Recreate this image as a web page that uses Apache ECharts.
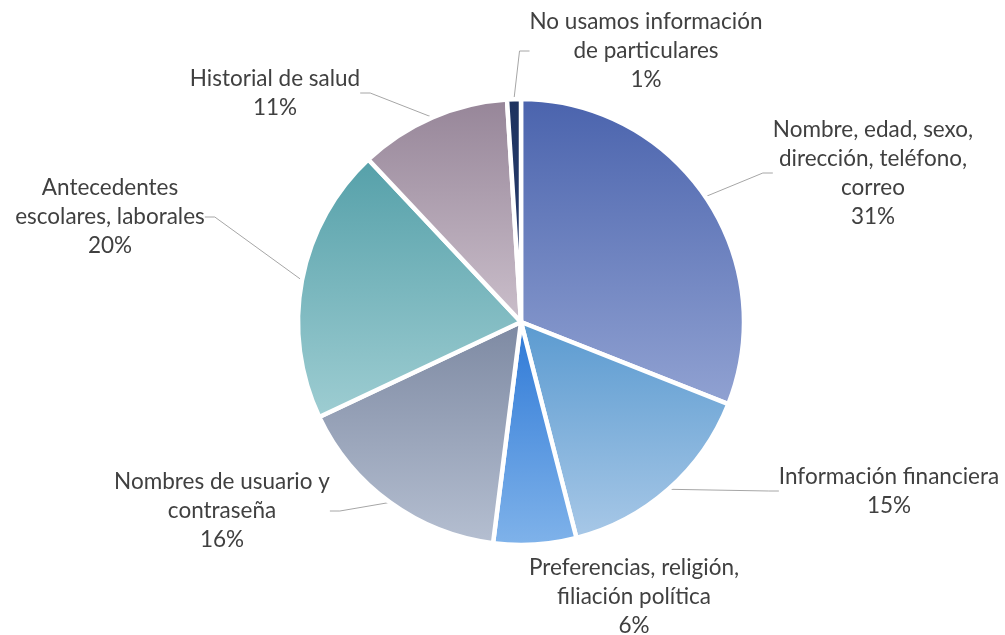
<!DOCTYPE html>
<html>
<head>
<meta charset="utf-8">
<script src="https://cdn.jsdelivr.net/npm/echarts@6/dist/echarts.min.js"></script>
<style>
  html, body { margin: 0; padding: 0; background: #fff; }
  #chart { width: 1005px; height: 635px; }
</style>
</head>
<body>
<div id="chart"></div>
<script>
// categories, clockwise from 12 o'clock
const categories = [
  'Nombre, edad, sexo,\ndirección, teléfono,\ncorreo',
  'Información financiera',
  'Preferencias, religión,\nfiliación política',
  'Nombres de usuario y\ncontraseña',
  'Antecedentes\nescolares, laborales',
  'Historial de salud',
  'No usamos información\nde particulares'
]
const percents = [31, 15, 6, 16, 20, 11, 1]

// top / bottom colour of each slice gradient
const topColors = ['#4a63ad', '#5a9ad0', '#2d78d6', '#7d89a2', '#55a0a9', '#968598', '#1e3360']
const bottomColors = ['#91a2d2', '#a8c8e7', '#80b3ea', '#b5bfd1', '#9ecdd2', '#cbbfcb', '#2b3f70']

// label centres (px)
const labelPos = [
  [873, 173], [889, 491], [634, 597], [222, 511], [110, 217], [275, 93], [646, 51]
]

const myChart = echarts.init(document.getElementById('chart'))

const option = {
  animation: false,
  series: [
    {
      type: 'pie',
      center: [521, 322],
      radius: 223,
      startAngle: 90,
      clockwise: true,
      data: categories.map((name, i) => {
        return {
          name: name,
          value: percents[i],
          itemStyle: {
            color: new echarts.graphic.LinearGradient(0, 0, 0, 1, [
              { offset: 0, color: topColors[i] },
              { offset: 1, color: bottomColors[i] }
            ])
          },
          labelLine: { show: i !== 2 }
        }
      }),
      itemStyle: {
        borderColor: '#fff',
        borderWidth: 4.5
      },
      label: {
        show: true,
        position: 'outside',
        formatter: '{b}\n{c}%',
        fontFamily: 'Lato, sans-serif',
        fontSize: 22.5,
        lineHeight: 29,
        color: '#404040',
        align: 'center'
      },
      labelLine: {
        show: true,
        length: 20,
        length2: 10,
        lineStyle: { color: '#a6a6a6', width: 1 }
      },
      labelLayout(params) {
        const p = labelPos[params.dataIndex]
        return {
          x: p[0],
          y: p[1],
          align: 'center',
          verticalAlign: 'middle'
        }
      }
    }
  ]
}
myChart.setOption(option)
</script>
</body>
</html>
